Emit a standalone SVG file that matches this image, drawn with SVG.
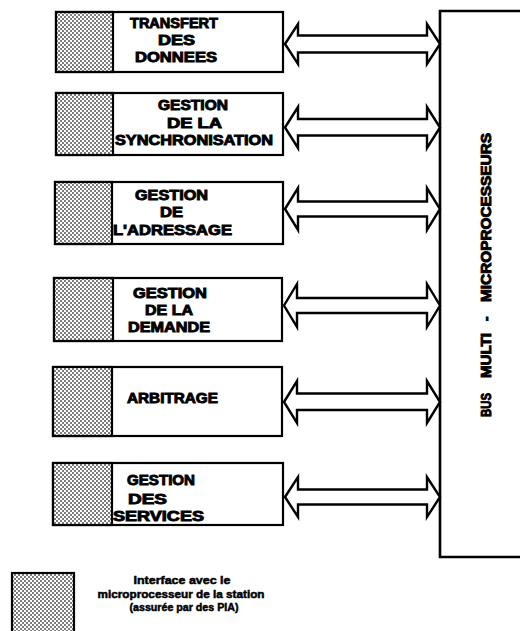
<svg xmlns="http://www.w3.org/2000/svg" width="520" height="631" viewBox="0 0 520 631">
<defs>
<pattern id="dots" width="4" height="4" patternUnits="userSpaceOnUse">
<rect width="4" height="4" fill="#fff"/>
<rect x="0.2" y="0.2" width="1.6" height="1.6" fill="#333"/>
<rect x="2.2" y="2.2" width="1.6" height="1.6" fill="#333"/>
</pattern>
</defs>
<style>
.box{fill:#fff;stroke:#000;stroke-width:2.2}
.shade{fill:url(#dots);stroke:#000;stroke-width:2.2}
.arrow{fill:#fff;stroke:#000;stroke-width:2.4;stroke-linejoin:miter}
.bus{fill:#fff;stroke:#000;stroke-width:2.6}
.t{font-family:"Liberation Sans",Arial,sans-serif;font-weight:bold;font-size:14px;fill:#000;stroke:#000;stroke-width:0.9}
.lg{font-family:"Liberation Sans",Arial,sans-serif;font-weight:bold;font-size:11px;fill:#000;stroke:#000;stroke-width:0.5}
</style>
<rect width="520" height="631" fill="#fff"/>

<g id="bus">
<path class="bus" d="M530 11 H440 V557 H530"/>
<text class="t" transform="translate(491,417) rotate(-90)"><tspan x="0" y="0" textLength="24" lengthAdjust="spacingAndGlyphs">BUS</tspan><tspan x="39" y="0" textLength="45" lengthAdjust="spacingAndGlyphs">MULTI</tspan><tspan x="96" y="0">-</tspan><tspan x="115" y="0" textLength="169" lengthAdjust="spacingAndGlyphs">MICROPROCESSEURS</tspan></text>
</g>

<g id="connectors">
<path class="arrow" d="M285 44 L298 24 L298 35.5 L427 35.5 L427 24 L440 44 L427 64 L427 52.5 L298 52.5 L298 64 Z"/>
<path class="arrow" d="M285 127.5 L298 107 L298 119 L427 119 L427 107 L440 127.5 L427 148 L427 135.5 L298 135.5 L298 148 Z"/>
<path class="arrow" d="M285 209 L298 188 L298 201.5 L427 201.5 L427 188 L440 209 L427 230 L427 216.5 L298 216.5 L298 230 Z"/>
<path class="arrow" d="M284 305.5 L297 284 L297 298 L427 298 L427 284 L440 305.5 L427 327 L427 313 L297 313 L297 327 Z"/>
<path class="arrow" d="M284 402 L297 381 L297 393.5 L427 393.5 L427 381 L440 402 L427 423 L427 410 L297 410 L297 423 Z"/>
<path class="arrow" d="M285 497 L298 477 L298 489.5 L427 489.5 L427 477 L440 497 L427 517 L427 504.5 L298 504.5 L298 517 Z"/>
</g>

<g id="node1">
<rect class="box" x="56" y="12" width="227" height="60"/>
<rect class="shade" x="56" y="12" width="57" height="60"/>
<text class="t" x="130" y="28" textLength="88" lengthAdjust="spacingAndGlyphs">TRANSFERT</text>
<text class="t" x="158" y="45" textLength="37" lengthAdjust="spacingAndGlyphs">DES</text>
<text class="t" x="135" y="62" textLength="82" lengthAdjust="spacingAndGlyphs">DONNEES</text>
</g>

<g id="node2">
<rect class="box" x="56" y="93" width="227" height="62"/>
<rect class="shade" x="56" y="93" width="57" height="62"/>
<text class="t" x="158" y="110" textLength="70" lengthAdjust="spacingAndGlyphs">GESTION</text>
<text class="t" x="167" y="128" textLength="55" lengthAdjust="spacingAndGlyphs">DE LA</text>
<text class="t" x="115" y="145" textLength="158" lengthAdjust="spacingAndGlyphs">SYNCHRONISATION</text>
</g>

<g id="node3">
<rect class="box" x="55" y="182" width="228" height="62"/>
<rect class="shade" x="55" y="182" width="57" height="62"/>
<text class="t" x="135" y="200" textLength="73" lengthAdjust="spacingAndGlyphs">GESTION</text>
<text class="t" x="160" y="217" textLength="23" lengthAdjust="spacingAndGlyphs">DE</text>
<text class="t" x="113" y="235" textLength="119" lengthAdjust="spacingAndGlyphs">L'ADRESSAGE</text>
</g>

<g id="node4">
<rect class="box" x="54" y="278" width="228" height="63"/>
<rect class="shade" x="54" y="278" width="59" height="63"/>
<text class="t" x="133" y="298" textLength="74" lengthAdjust="spacingAndGlyphs">GESTION</text>
<text class="t" x="145" y="315" textLength="48" lengthAdjust="spacingAndGlyphs">DE LA</text>
<text class="t" x="128" y="332" textLength="82" lengthAdjust="spacingAndGlyphs">DEMANDE</text>
</g>

<g id="node5">
<rect class="box" x="53" y="367" width="229" height="69"/>
<rect class="shade" x="53" y="367" width="59" height="69"/>
<text class="t" x="127" y="403" textLength="91" lengthAdjust="spacingAndGlyphs">ARBITRAGE</text>
</g>

<g id="node6">
<rect class="box" x="53" y="463" width="230" height="62"/>
<rect class="shade" x="53" y="463" width="59" height="62"/>
<text class="t" x="127" y="485" textLength="68" lengthAdjust="spacingAndGlyphs">GESTION</text>
<text class="t" x="128" y="504" textLength="39" lengthAdjust="spacingAndGlyphs">DES</text>
<text class="t" x="113" y="521" textLength="91" lengthAdjust="spacingAndGlyphs">SERVICES</text>
</g>

<g id="legend">
<rect class="shade" x="12" y="573" width="62" height="64"/>
<text class="lg" x="182" y="584" text-anchor="middle" textLength="97" lengthAdjust="spacingAndGlyphs">Interface avec le</text>
<text class="lg" x="181" y="598" text-anchor="middle" textLength="167" lengthAdjust="spacingAndGlyphs">microprocesseur de la station</text>
<text class="lg" x="184" y="611" text-anchor="middle" textLength="109" lengthAdjust="spacingAndGlyphs">(assurée par des PIA)</text>
</g>
</svg>
